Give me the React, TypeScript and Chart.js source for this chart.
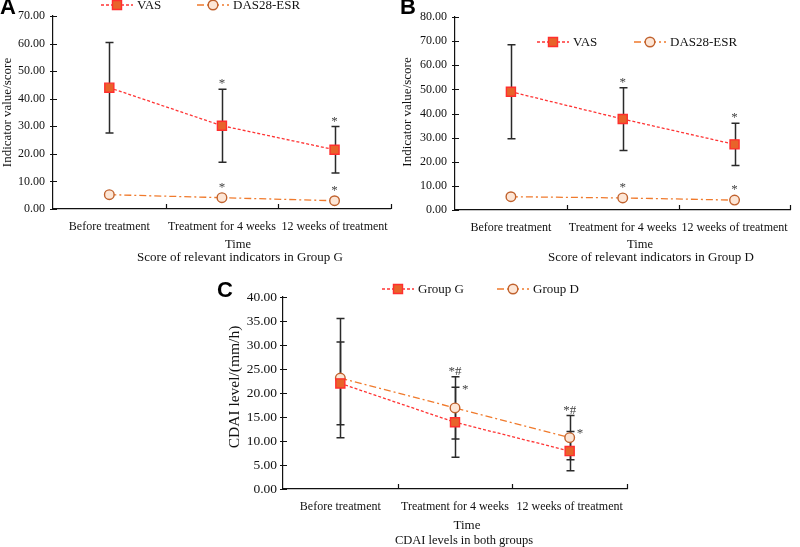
import React, { useEffect, useRef } from "react";
import { Chart, registerables } from "chart.js";

Chart.register(...registerables);

// ---------- data ----------
const categories = ["Before treatment", "Treatment for 4 weeks", "12 weeks of treatment"];

// Panel A – Group G
const gVasMean = [44.0, 30.2, 21.5];
const gVasSd = [16.4, 13.2, 8.4];
const gDasMean = [5.2, 4.1, 3.0];
const gVasMarks = ["", "*", "*"];
const gDasMarks = ["", "*", "*"];

// Panel B – Group D
const dVasMean = [49.0, 37.7, 27.2];
const dVasSd = [19.5, 13.0, 8.8];
const dDasMean = [5.5, 5.0, 4.1];
const dVasMarks = ["", "*", "*"];
const dDasMarks = ["", "*", "*"];

// Panel C – CDAI
const cdaiGMean = [22.0, 13.9, 7.9];
const cdaiGSd = [8.6, 7.3, 4.1];
const cdaiDMean = [23.1, 16.9, 10.7];
const cdaiDSd = [12.4, 6.5, 4.6];
const cdaiGMarks = ["", "*", "*"];
const cdaiDMarks = ["", "*#", "*#"];

const axisA = { max: 70, step: 10 };
const axisB = { max: 80, step: 10 };
const axisC = { max: 40, step: 5 };

const xTitleA = ["Time", "Score of relevant indicators in Group G"];
const xTitleB = ["Time", "Score of relevant indicators in Group D"];
const xTitleC = ["Time", "CDAI levels in both groups"];

// ---------- styles ----------
const SERIF = "'Liberation Serif', 'Times New Roman', serif";
const SANS = "'Liberation Sans', Arial, sans-serif";

const vasStyle = {
  borderColor: "#FF3434",
  backgroundColor: "#E8632A",
  pointBorderColor: "#FF2E2E",
  pointBackgroundColor: "#E8632A",
  pointStyle: "rect",
  pointRadius: 6.4,
  pointBorderWidth: 1.4,
  borderWidth: 1.3,
  borderDash: [3, 2],
};
const dasStyle = {
  borderColor: "#F07A2C",
  backgroundColor: "#FDE6D6",
  pointBorderColor: "#C0622E",
  pointBackgroundColor: "#FDE6D6",
  pointStyle: "circle",
  pointRadius: 4.8,
  pointBorderWidth: 1.4,
  borderWidth: 1.3,
  borderDash: [7, 3, 2, 3],
};

// ---------- plugins ----------
const errorBarPlugin = {
  id: "errorBars",
  beforeDatasetsDraw(chart: any) {
    const { ctx } = chart;
    const y = chart.scales.y;
    chart.data.datasets.forEach((ds: any, i: number) => {
      if (!ds.errors) return;
      const meta = chart.getDatasetMeta(i);
      ctx.save();
      ctx.strokeStyle = "#2a2a2a";
      ctx.lineWidth = 1.5;
      ctx.setLineDash([]);
      meta.data.forEach((pt: any, j: number) => {
        const v = ds.data[j];
        const e = ds.errors[j];
        const top = y.getPixelForValue(v + e);
        const bot = y.getPixelForValue(v - e);
        const x = Math.round(pt.x) + 0.5;
        ctx.beginPath();
        ctx.moveTo(x, top);
        ctx.lineTo(x, bot);
        ctx.moveTo(x - 4, top);
        ctx.lineTo(x + 4, top);
        ctx.moveTo(x - 4, bot);
        ctx.lineTo(x + 4, bot);
        ctx.stroke();
      });
      ctx.restore();
    });
  },
};

const marksPlugin = {
  id: "sigMarks",
  afterDatasetsDraw(chart: any, _a: any, opts: any) {
    const { ctx } = chart;
    const y = chart.scales.y;
    const size = (opts && opts.size) || 13;
    chart.data.datasets.forEach((ds: any, i: number) => {
      if (!ds.marks) return;
      const meta = chart.getDatasetMeta(i);
      ctx.save();
      ctx.fillStyle = "#444";
      ctx.font = `${size}px ${SERIF}`;
      meta.data.forEach((pt: any, j: number) => {
        const m = ds.marks[j];
        if (!m) return;
        const anchor = ds.errors
          ? y.getPixelForValue(ds.data[j] + ds.errors[j])
          : pt.y - ds.pointRadius;
        ctx.textBaseline = "alphabetic";
        if (ds.markSide === "right") {
          ctx.textAlign = "left";
          ctx.fillText(m, pt.x + 7, anchor + 6);
        } else {
          ctx.textAlign = "center";
          ctx.fillText(m, pt.x, anchor - 2);
        }
      });
      ctx.restore();
    });
  },
};

const axisTickPlugin = {
  id: "axisTicks",
  afterDraw(chart: any) {
    const { ctx, chartArea } = chart;
    const x = chart.scales.x;
    const y = chart.scales.y;
    ctx.save();
    ctx.strokeStyle = "#111";
    ctx.lineWidth = 1.2;
    ctx.setLineDash([]);
    ctx.beginPath();
    y.ticks.forEach((t: any) => {
      const py = Math.round(y.getPixelForValue(t.value)) + 0.5;
      ctx.moveTo(chartArea.left - 3, py);
      ctx.lineTo(chartArea.left + 4, py);
    });
    const n = x.ticks.length;
    const step = (chartArea.right - chartArea.left) / n;
    for (let k = 1; k <= n; k++) {
      const px = Math.round(chartArea.left + k * step) + 0.5;
      ctx.moveTo(px, chartArea.bottom);
      ctx.lineTo(px, chartArea.bottom - 5);
    }
    ctx.stroke();
    ctx.restore();
  },
};

const legendPlugin = {
  id: "customLegend",
  afterDraw(chart: any, _a: any, opts: any) {
    if (!opts || !opts.items) return;
    const { ctx } = chart;
    opts.items.forEach((item: any, i: number) => {
      const ds: any = chart.data.datasets[i];
      ctx.save();
      ctx.strokeStyle = ds.borderColor;
      ctx.lineWidth = ds.borderWidth;
      ctx.setLineDash(ds.borderDash || []);
      ctx.beginPath();
      ctx.moveTo(item.x - 16, item.y);
      ctx.lineTo(item.x + 16, item.y);
      ctx.stroke();
      ctx.setLineDash([]);
      ctx.fillStyle = ds.pointBackgroundColor;
      ctx.strokeStyle = ds.pointBorderColor;
      ctx.lineWidth = ds.pointBorderWidth;
      ctx.beginPath();
      if (ds.pointStyle === "rect") {
        const s = ds.pointRadius * Math.SQRT1_2;
        ctx.rect(item.x - s, item.y - s, 2 * s, 2 * s);
      } else {
        ctx.arc(item.x, item.y, ds.pointRadius, 0, Math.PI * 2);
      }
      ctx.fill();
      ctx.stroke();
      ctx.fillStyle = "#111";
      ctx.font = `${opts.size || 13}px ${SERIF}`;
      ctx.textAlign = "left";
      ctx.textBaseline = "middle";
      ctx.fillText(ds.label, item.x + 20, item.y + 1);
      ctx.restore();
    });
  },
};

const textPlugin = {
  id: "panelText",
  afterDraw(chart: any, _a: any, opts: any) {
    if (!opts) return;
    const { ctx } = chart;
    ctx.save();
    ctx.fillStyle = "#000";
    if (opts.letter) {
      ctx.font = `bold 22px ${SANS}`;
      ctx.textAlign = "left";
      ctx.textBaseline = "alphabetic";
      ctx.fillText(opts.letter.text, opts.letter.x, opts.letter.y);
    }
    ctx.fillStyle = "#111";
    ctx.textAlign = "center";
    ctx.textBaseline = "middle";
    (opts.xTitles || []).forEach((t: any) => {
      ctx.font = `${t.size}px ${SERIF}`;
      ctx.fillText(t.text, t.x, t.y);
    });
    if (opts.yTitle) {
      const t = opts.yTitle;
      ctx.translate(t.x, t.y);
      ctx.rotate(-Math.PI / 2);
      ctx.font = `${t.size}px ${SERIF}`;
      ctx.fillText(t.text, 0, 0);
    }
    ctx.restore();
  },
};

// ---------- config builder ----------
type Spec = {
  datasets: any[];
  axis: { max: number; step: number };
  yTickSize: number;
  padding: { left: number; right: number; top: number; bottom: number };
  yWidth: number;
  xHeight: number;
  legend: { x: number; y: number }[];
  legendSize: number;
  text: any;
  tickPad: number;
};

function buildConfig(s: Spec): any {
  return {
    type: "line",
    data: { labels: categories, datasets: s.datasets },
    options: {
      responsive: false,
      animation: false,
      events: [],
      layout: { padding: s.padding },
      plugins: {
        legend: { display: false },
        tooltip: { enabled: false },
        title: { display: false },
        customLegend: { items: s.legend, size: s.legendSize },
        panelText: s.text,
        sigMarks: { size: 13 },
      },
      scales: {
        x: {
          type: "category",
          offset: true,
          grid: { display: false, drawTicks: false },
          border: { display: true, color: "#111", width: 1.2 },
          ticks: {
            autoSkip: false,
            maxRotation: 0,
            padding: 11,
            color: "#111",
            font: { family: SERIF, size: 12 },
          },
          title: { display: false },
          afterFit: (sc: any) => {
            sc.height = s.xHeight;
          },
        },
        y: {
          min: 0,
          max: s.axis.max,
          grid: { display: false, drawTicks: false },
          border: { display: true, color: "#111", width: 1.2 },
          ticks: {
            stepSize: s.axis.step,
            padding: s.tickPad,
            color: "#111",
            font: { family: SERIF, size: s.yTickSize },
            callback: (v: any) => Number(v).toFixed(2),
          },
          title: { display: false },
          afterFit: (sc: any) => {
            sc.width = s.yWidth;
          },
        },
      },
    },
    plugins: [errorBarPlugin, marksPlugin, axisTickPlugin, legendPlugin, textPlugin],
  };
}

// ---------- specs ----------
const specA: Spec = {
  datasets: [
    { label: "VAS", data: gVasMean, errors: gVasSd, marks: gVasMarks, ...vasStyle },
    { label: "DAS28-ESR", data: gDasMean, marks: gDasMarks, ...dasStyle },
  ],
  axis: axisA,
  yTickSize: 12,
  padding: { left: 0, right: 4, top: 16, bottom: 5.5 },
  yWidth: 53,
  xHeight: 55.5,
  legend: [
    { x: 117, y: 5 },
    { x: 213, y: 5 },
  ],
  legendSize: 13,
  text: {
    letter: { text: "A", x: 0, y: 13.5 },
    xTitles: [
      { text: xTitleA[0], x: 238, y: 245, size: 12.5 },
      { text: xTitleA[1], x: 240, y: 258, size: 13 },
    ],
    yTitle: { text: "Indicator value/score", x: 8, y: 112.5, size: 13 },
  },
  tickPad: 8,
};

const specB: Spec = {
  datasets: [
    { label: "VAS", data: dVasMean, errors: dVasSd, marks: dVasMarks, ...vasStyle },
    { label: "DAS28-ESR", data: dDasMean, marks: dDasMarks, ...dasStyle },
  ],
  axis: axisB,
  yTickSize: 12,
  padding: { left: 0, right: 3, top: 17, bottom: 5.5 },
  yWidth: 55,
  xHeight: 54.5,
  legend: [
    { x: 153, y: 42 },
    { x: 250, y: 42 },
  ],
  legendSize: 13,
  text: {
    letter: { text: "B", x: 0, y: 13.5 },
    xTitles: [
      { text: xTitleB[0], x: 240, y: 245, size: 12.5 },
      { text: xTitleB[1], x: 251, y: 258, size: 13 },
    ],
    yTitle: { text: "Indicator value/score", x: 8, y: 112, size: 13 },
  },
  tickPad: 8,
};

const specC: Spec = {
  datasets: [
    { label: "Group G", data: cdaiGMean, errors: cdaiGSd, marks: cdaiGMarks, markSide: "right", ...vasStyle },
    { label: "Group D", data: cdaiDMean, errors: cdaiDSd, marks: cdaiDMarks, ...dasStyle },
  ],
  axis: axisC,
  yTickSize: 13.5,
  padding: { left: 27, right: 13, top: 32, bottom: 6.5 },
  yWidth: 56,
  xHeight: 59.5,
  legend: [
    { x: 198, y: 24 },
    { x: 313, y: 24 },
  ],
  legendSize: 13,
  text: {
    letter: { text: "C", x: 17, y: 32 },
    xTitles: [
      { text: xTitleC[0], x: 267, y: 261, size: 13 },
      { text: xTitleC[1], x: 264, y: 276, size: 12.5 },
    ],
    yTitle: { text: "CDAI level/(mm/h)", x: 35, y: 122, size: 15.5 },
  },
  tickPad: 6,
};

function Panel({ spec, left, top, width, height }: { spec: Spec; left: number; top: number; width: number; height: number }) {
  const ref = useRef<HTMLCanvasElement>(null);
  useEffect(() => {
    const chart = new Chart(ref.current as HTMLCanvasElement, buildConfig(spec));
    return () => chart.destroy();
  }, [spec]);
  return (
    <canvas
      ref={ref}
      width={width}
      height={height}
      style={{ position: "absolute", left, top, width, height, display: "block" }}
    />
  );
}

export default function App() {
  return (
    <div
      style={{
        position: "fixed",
        left: 0,
        top: 0,
        width: 800,
        height: 547,
        overflow: "hidden",
        background: "#fff",
      }}
    >
      <Panel spec={specA} left={0} top={0} width={400} height={270} />
      <Panel spec={specB} left={400} top={0} width={400} height={270} />
      <Panel spec={specC} left={200} top={265} width={440} height={290} />
    </div>
  );
}
